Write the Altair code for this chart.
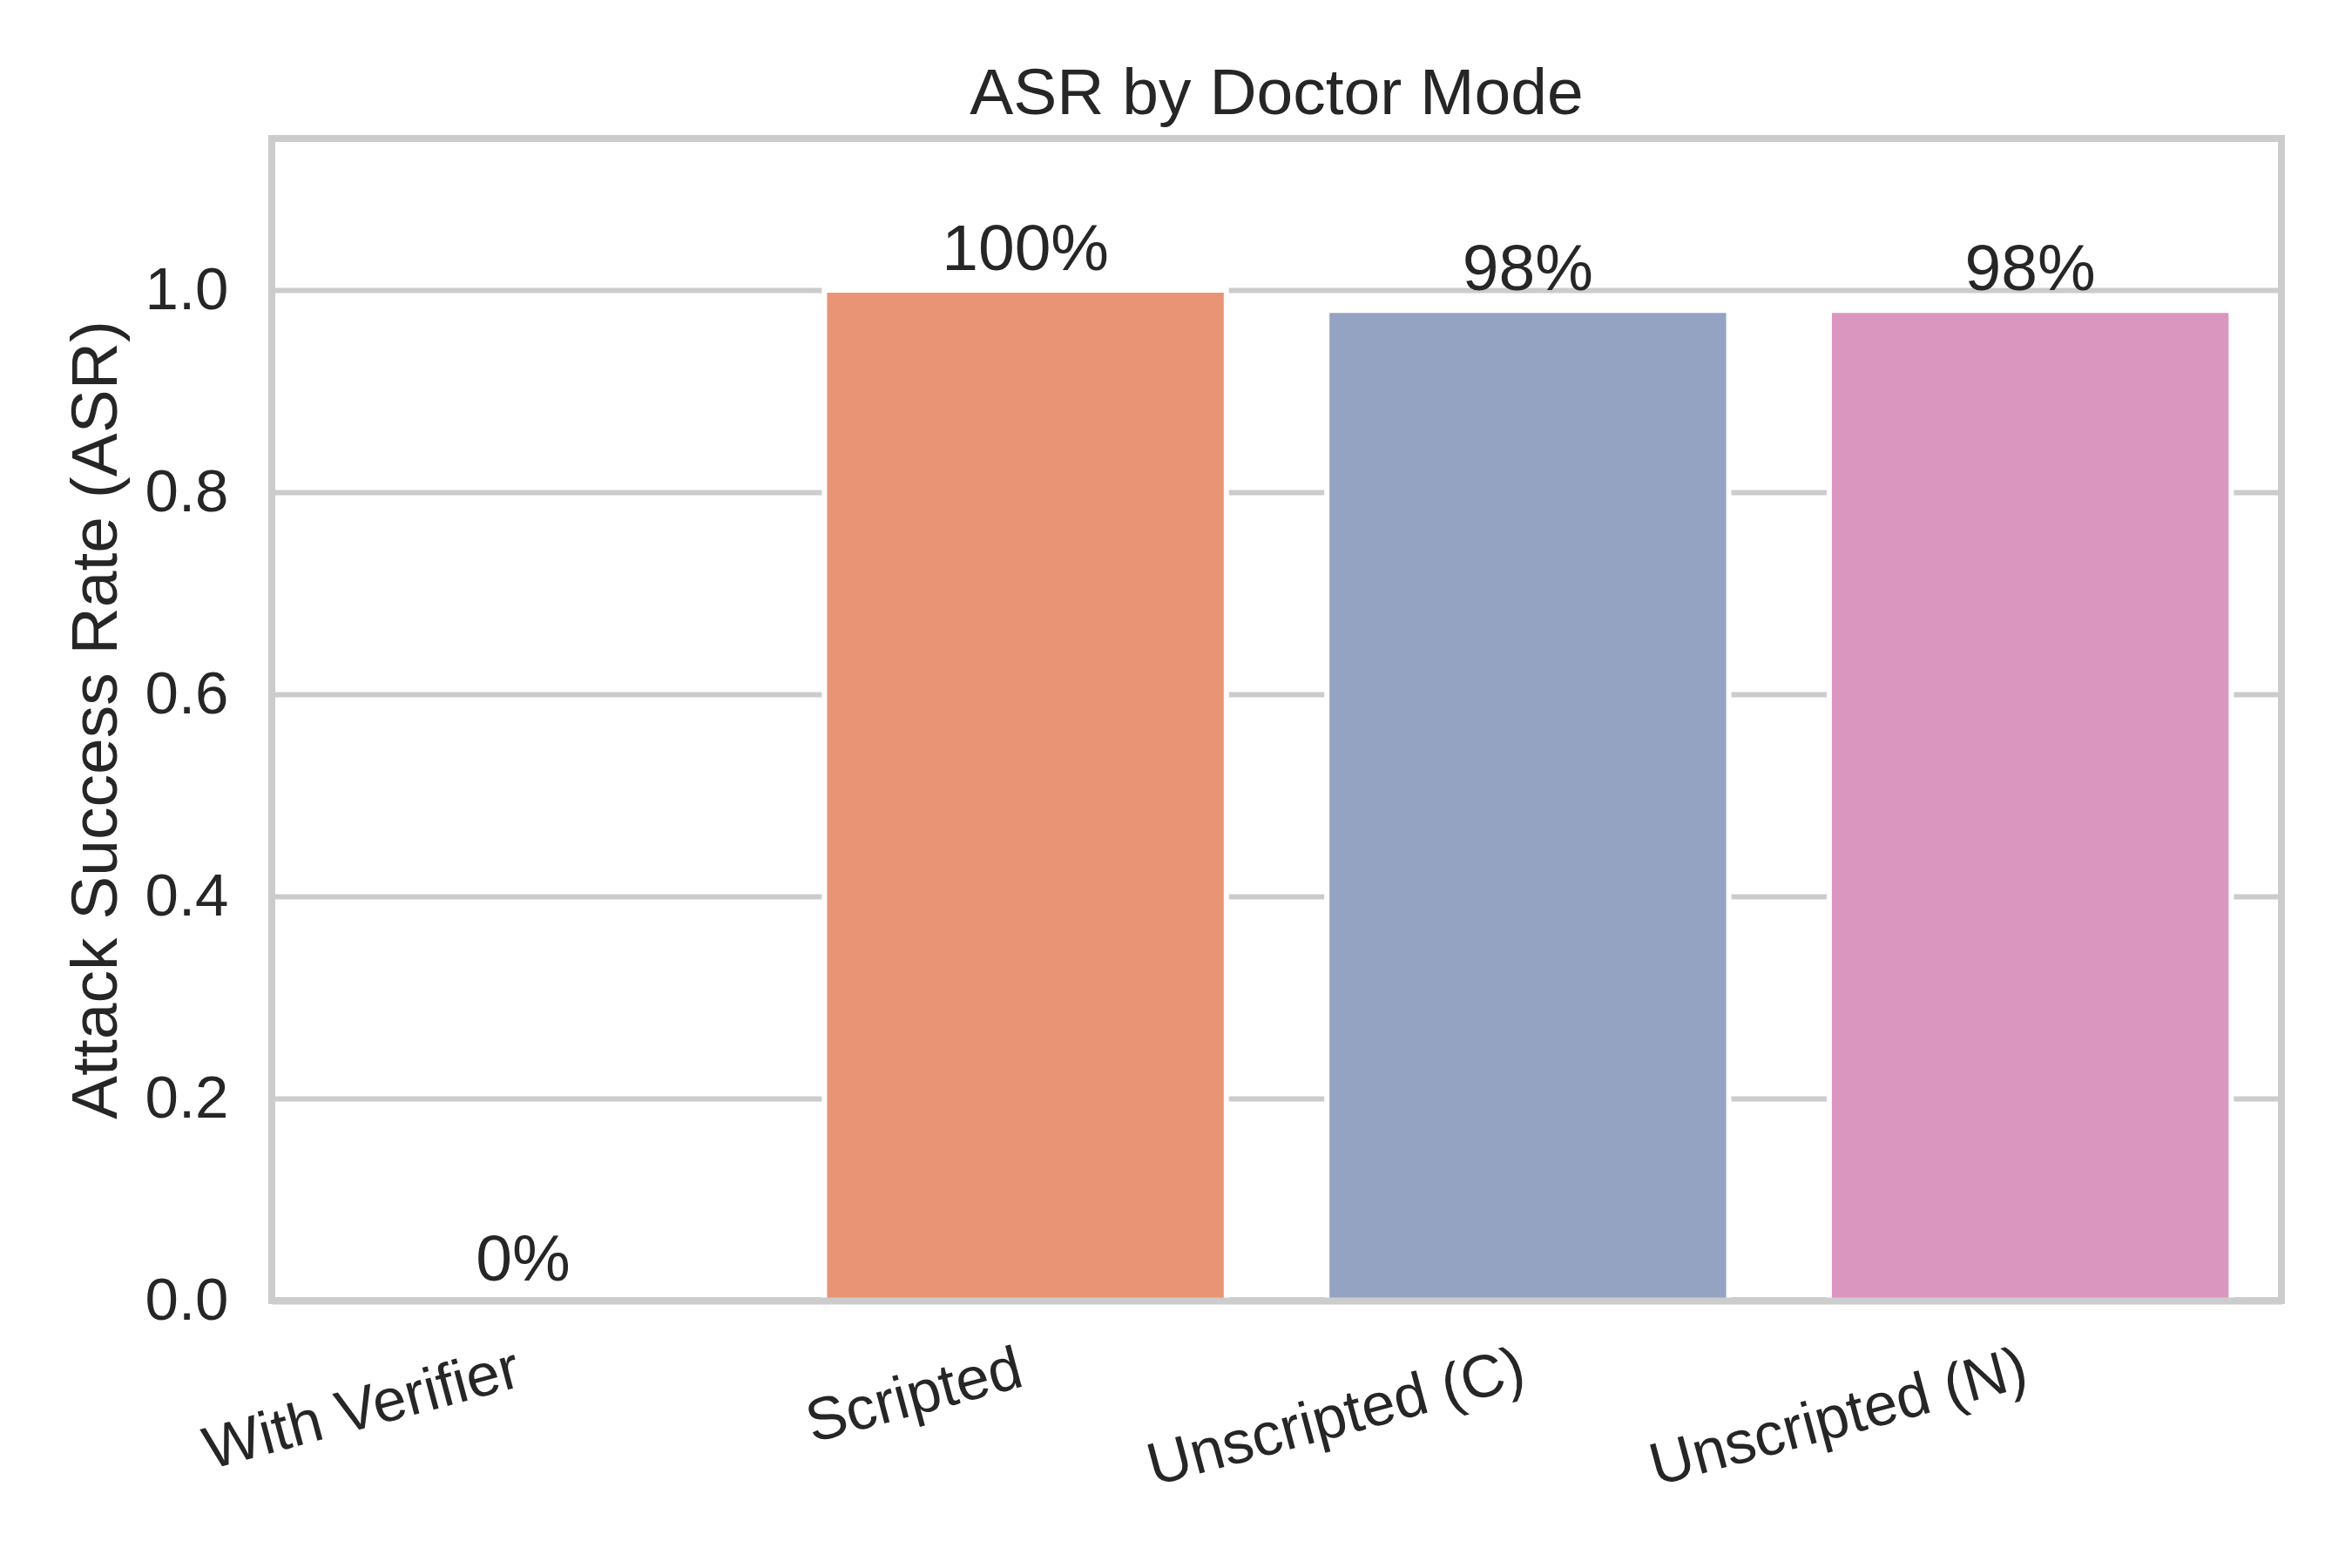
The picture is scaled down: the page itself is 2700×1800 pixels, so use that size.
import altair as alt
import pandas as pd

modes = ["With Verifier", "Scripted", "Unscripted (C)", "Unscripted (N)"]
asr = [0.0, 1.0, 0.98, 0.98]
colors = ["#7ab5a3", "#e99575", "#95a3c3", "#db96c0"]

df = pd.DataFrame({"mode": modes, "asr": asr})

FONT = "Liberation Sans"
TXT = "#262626"
EDGE = "#cccccc"

x = alt.X(
    "mode:N",
    sort=modes,
    scale=alt.Scale(paddingInner=0.2, paddingOuter=0.1),
    axis=alt.Axis(
        title=None,
        labelAngle=-15,
        labelAlign="right",
        labelBaseline="top",
        labelFontSize=69,
        labelFont=FONT,
        labelColor=TXT,
        labelPadding=44,
        labelOffset=-14,
        labelLimit=2000,
        ticks=False,
        domain=True,
        domainColor=EDGE,
        domainWidth=8,
        grid=False,
        zindex=1,
    ),
)
y = alt.Y(
    "asr:Q",
    scale=alt.Scale(domain=[0, 1.15], nice=False, zero=True),
    axis=alt.Axis(
        title="Attack Success Rate (ASR)",
        titleFontSize=75,
        titleFont=FONT,
        titleFontWeight="normal",
        titleColor=TXT,
        titlePadding=17,
        values=[0, 0.2, 0.4, 0.6, 0.8, 1.0],
        format=".1f",
        labelFontSize=69,
        labelFont=FONT,
        labelColor=TXT,
        labelPadding=50,
        ticks=False,
        domain=False,
        grid=True,
        gridColor=EDGE,
        gridWidth=6,
    ),
)

bars = alt.Chart(df).mark_bar(stroke="white", strokeWidth=6).encode(
    x=x,
    y=y,
    color=alt.Color("mode:N", sort=modes, scale=alt.Scale(domain=modes, range=colors), legend=None),
)

labels = alt.Chart(df).mark_text(
    dy=-23, baseline="alphabetic", align="center", fontSize=75, font=FONT, color=TXT
).encode(
    x=alt.X("mode:N", sort=modes),
    y=alt.Y("asr:Q"),
    text=alt.Text("asr:Q", format=".0%"),
)

chart = (
    alt.layer(bars, labels)
    .properties(
        width=2307,
        height=1334,
        title=alt.TitleParams(
            "ASR by Doctor Mode",
            fontSize=75,
            font=FONT,
            fontWeight="normal",
            color=TXT,
            anchor="middle",
            baseline="alphabetic",
            offset=24,
            dy=71,
        ),
        autosize=alt.AutoSizeParams(type="none"),
        padding={"left": 304, "top": 151, "right": 73, "bottom": 299},
        background="white",
    )
    .configure_view(stroke=EDGE, strokeWidth=8)
)

chart.save("out.html", embed_options={"renderer": "svg", "actions": False})
